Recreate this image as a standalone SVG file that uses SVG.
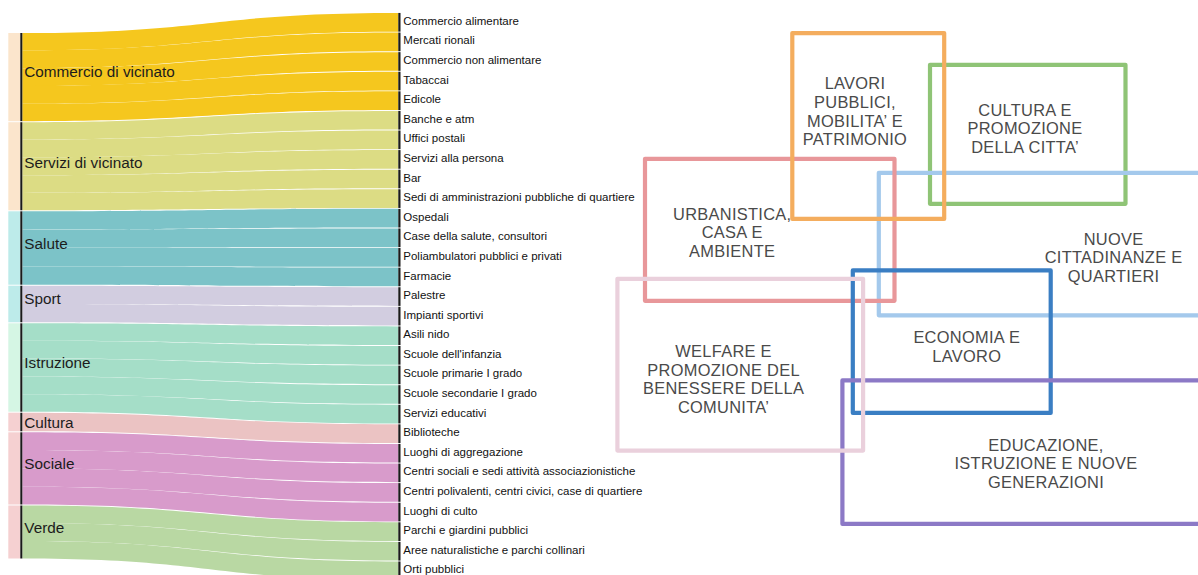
<svg xmlns="http://www.w3.org/2000/svg" width="1198" height="575" viewBox="0 0 1198 575">
<style>
.bg{fill:#ffffff}
.ll{font-family:"Liberation Sans",Arial,sans-serif;font-size:15.3px;fill:#1c1c1c}
.rl{font-family:"Liberation Sans",Arial,sans-serif;font-size:11.5px;fill:#111}
.bt{font-family:"Liberation Sans",Arial,sans-serif;font-size:16.4px;fill:#4a4a4a;letter-spacing:0.3px;text-anchor:middle}
.bar{fill:#1a1a1a}
.c1{fill:#f5c71e}.c2{fill:#dcdc84}.c3{fill:#7cc3c8}.c4{fill:#d2cde0}.c5{fill:#a5dec8}.c6{fill:#ebc3c3}.c7{fill:#d89bcb}.c8{fill:#b9d8a3}
.s1{fill:#fbe5cc}.s2{fill:#bdebea}.s3{fill:#d5f6e4}.s4{fill:#f5d0d1}
.box{fill:none;stroke-width:4.2;stroke-linejoin:round}
</style>
<rect class="bg" x="0" y="0" width="1198" height="575"/>
<g id="connectors">
<path class="c1" d="M22.3 33.0C210 33.0 210 12.95 398.3 12.95V31.64C210 31.64 210 50.34 22.3 50.34Z"/>
<path class="c1" d="M22.3 50.34C210 50.34 210 32.54 398.3 32.54V51.23C210 51.23 210 68.18 22.3 68.18Z"/>
<path class="c1" d="M22.3 68.18C210 68.18 210 52.13 398.3 52.13V70.82C210 70.82 210 86.02 22.3 86.02Z"/>
<path class="c1" d="M22.3 86.02C210 86.02 210 71.72 398.3 71.72V90.41C210 90.41 210 103.86 22.3 103.86Z"/>
<path class="c1" d="M22.3 103.86C210 103.86 210 91.31 398.3 91.31V110.0C210 110.0 210 121.2 22.3 121.2Z"/>
<path class="c2" d="M22.3 122.2C210 122.2 210 110.9 398.3 110.9V129.59C210 129.59 210 139.52 22.3 139.52Z"/>
<path class="c2" d="M22.3 139.52C210 139.52 210 130.49 398.3 130.49V149.18C210 149.18 210 157.34 22.3 157.34Z"/>
<path class="c2" d="M22.3 157.34C210 157.34 210 150.08 398.3 150.08V168.77C210 168.77 210 175.16 22.3 175.16Z"/>
<path class="c2" d="M22.3 175.16C210 175.16 210 169.67 398.3 169.67V188.36C210 188.36 210 192.98 22.3 192.98Z"/>
<path class="c2" d="M22.3 192.98C210 192.98 210 189.26 398.3 189.26V207.95C210 207.95 210 210.3 22.3 210.3Z"/>
<path class="c3" d="M22.3 211.3C210 211.3 210 208.85 398.3 208.85V227.54C210 227.54 210 229.4 22.3 229.4Z"/>
<path class="c3" d="M22.3 229.4C210 229.4 210 228.44 398.3 228.44V247.13C210 247.13 210 248.0 22.3 248.0Z"/>
<path class="c3" d="M22.3 248.0C210 248.0 210 248.03 398.3 248.03V266.72C210 266.72 210 266.6 22.3 266.6Z"/>
<path class="c3" d="M22.3 266.6C210 266.6 210 267.62 398.3 267.62V286.31C210 286.31 210 284.7 22.3 284.7Z"/>
<path class="c4" d="M22.3 285.7C210 285.7 210 287.21 398.3 287.21V305.9C210 305.9 210 304.0 22.3 304.0Z"/>
<path class="c4" d="M22.3 304.0C210 304.0 210 306.8 398.3 306.8V325.49C210 325.49 210 322.3 22.3 322.3Z"/>
<path class="c5" d="M22.3 323.3C210 323.3 210 326.39 398.3 326.39V345.08C210 345.08 210 340.68 22.3 340.68Z"/>
<path class="c5" d="M22.3 340.68C210 340.68 210 345.98 398.3 345.98V364.67C210 364.67 210 358.56 22.3 358.56Z"/>
<path class="c5" d="M22.3 358.56C210 358.56 210 365.57 398.3 365.57V384.26C210 384.26 210 376.44 22.3 376.44Z"/>
<path class="c5" d="M22.3 376.44C210 376.44 210 385.16 398.3 385.16V403.85C210 403.85 210 394.32 22.3 394.32Z"/>
<path class="c5" d="M22.3 394.32C210 394.32 210 404.75 398.3 404.75V423.44C210 423.44 210 411.7 22.3 411.7Z"/>
<path class="c6" d="M22.3 412.7C210 412.7 210 424.34 398.3 424.34V443.03C210 443.03 210 431.3 22.3 431.3Z"/>
<path class="c7" d="M22.3 432.3C210 432.3 210 443.93 398.3 443.93V462.62C210 462.62 210 450.1 22.3 450.1Z"/>
<path class="c7" d="M22.3 450.1C210 450.1 210 463.52 398.3 463.52V482.21C210 482.21 210 468.4 22.3 468.4Z"/>
<path class="c7" d="M22.3 468.4C210 468.4 210 483.11 398.3 483.11V501.8C210 501.8 210 486.7 22.3 486.7Z"/>
<path class="c7" d="M22.3 486.7C210 486.7 210 502.7 398.3 502.7V521.39C210 521.39 210 504.5 22.3 504.5Z"/>
<path class="c8" d="M22.3 505.5C210 505.5 210 522.29 398.3 522.29V540.98C210 540.98 210 523.0 22.3 523.0Z"/>
<path class="c8" d="M22.3 523.0C210 523.0 210 541.88 398.3 541.88V560.57C210 560.57 210 541.0 22.3 541.0Z"/>
<path class="c8" d="M22.3 541.0C210 541.0 210 561.47 398.3 561.47V580.16C210 580.16 210 558.5 22.3 558.5Z"/>
</g>
<g id="n-commercio"><rect class="s1" x="8.3" y="33.0" width="12" height="88.2"/><rect class="bar" x="20.3" y="33.0" width="2" height="88.2"/><text class="ll" x="24.3" y="77">Commercio di vicinato</text></g>
<g id="n-servizi"><rect class="s1" x="8.3" y="122.2" width="12" height="88.1"/><rect class="bar" x="20.3" y="122.2" width="2" height="88.1"/><text class="ll" x="24.3" y="167.5">Servizi di vicinato</text></g>
<g id="n-salute"><rect class="s2" x="8.3" y="211.3" width="12" height="73.4"/><rect class="bar" x="20.3" y="211.3" width="2" height="73.4"/><text class="ll" x="24.3" y="249">Salute</text></g>
<g id="n-sport"><rect class="s2" x="8.3" y="285.7" width="12" height="36.6"/><rect class="bar" x="20.3" y="285.7" width="2" height="36.6"/><text class="ll" x="24.3" y="304.3">Sport</text></g>
<g id="n-istruzione"><rect class="s3" x="8.3" y="323.3" width="12" height="88.4"/><rect class="bar" x="20.3" y="323.3" width="2" height="88.4"/><text class="ll" x="24.3" y="367.7">Istruzione</text></g>
<g id="n-cultura"><rect class="s4" x="8.3" y="412.7" width="12" height="18.6"/><rect class="bar" x="20.3" y="412.7" width="2" height="18.6"/><text class="ll" x="24.3" y="427.7">Cultura</text></g>
<g id="n-sociale"><rect class="s4" x="8.3" y="432.3" width="12" height="72.2"/><rect class="bar" x="20.3" y="432.3" width="2" height="72.2"/><text class="ll" x="24.3" y="469.3">Sociale</text></g>
<g id="n-verde"><rect class="s4" x="8.3" y="505.5" width="12" height="53"/><rect class="bar" x="20.3" y="505.5" width="2" height="53"/><text class="ll" x="24.3" y="532.7">Verde</text></g>
<g id="r0"><rect class="bar" x="398.3" y="12.95" width="2.2" height="18.69"/><text class="rl" x="403.3" y="24.8">Commercio alimentare</text></g>
<g id="r1"><rect class="bar" x="398.3" y="32.54" width="2.2" height="18.69"/><text class="rl" x="403.3" y="44.4">Mercati rionali</text></g>
<g id="r2"><rect class="bar" x="398.3" y="52.13" width="2.2" height="18.69"/><text class="rl" x="403.3" y="64.0">Commercio non alimentare</text></g>
<g id="r3"><rect class="bar" x="398.3" y="71.72" width="2.2" height="18.69"/><text class="rl" x="403.3" y="83.6">Tabaccai</text></g>
<g id="r4"><rect class="bar" x="398.3" y="91.31" width="2.2" height="18.69"/><text class="rl" x="403.3" y="103.2">Edicole</text></g>
<g id="r5"><rect class="bar" x="398.3" y="110.9" width="2.2" height="18.69"/><text class="rl" x="403.3" y="122.8">Banche e atm</text></g>
<g id="r6"><rect class="bar" x="398.3" y="130.49" width="2.2" height="18.69"/><text class="rl" x="403.3" y="142.3">Uffici postali</text></g>
<g id="r7"><rect class="bar" x="398.3" y="150.08" width="2.2" height="18.69"/><text class="rl" x="403.3" y="161.9">Servizi alla persona</text></g>
<g id="r8"><rect class="bar" x="398.3" y="169.67" width="2.2" height="18.69"/><text class="rl" x="403.3" y="181.5">Bar</text></g>
<g id="r9"><rect class="bar" x="398.3" y="189.26" width="2.2" height="18.69"/><text class="rl" x="403.3" y="201.1">Sedi di amministrazioni pubbliche di quartiere</text></g>
<g id="r10"><rect class="bar" x="398.3" y="208.85" width="2.2" height="18.69"/><text class="rl" x="403.3" y="220.7">Ospedali</text></g>
<g id="r11"><rect class="bar" x="398.3" y="228.44" width="2.2" height="18.69"/><text class="rl" x="403.3" y="240.3">Case della salute, consultori</text></g>
<g id="r12"><rect class="bar" x="398.3" y="248.03" width="2.2" height="18.69"/><text class="rl" x="403.3" y="259.9">Poliambulatori pubblici e privati</text></g>
<g id="r13"><rect class="bar" x="398.3" y="267.62" width="2.2" height="18.69"/><text class="rl" x="403.3" y="279.5">Farmacie</text></g>
<g id="r14"><rect class="bar" x="398.3" y="287.21" width="2.2" height="18.69"/><text class="rl" x="403.3" y="299.1">Palestre</text></g>
<g id="r15"><rect class="bar" x="398.3" y="306.8" width="2.2" height="18.69"/><text class="rl" x="403.3" y="318.7">Impianti sportivi</text></g>
<g id="r16"><rect class="bar" x="398.3" y="326.39" width="2.2" height="18.69"/><text class="rl" x="403.3" y="338.2">Asili nido</text></g>
<g id="r17"><rect class="bar" x="398.3" y="345.98" width="2.2" height="18.69"/><text class="rl" x="403.3" y="357.8">Scuole dell'infanzia</text></g>
<g id="r18"><rect class="bar" x="398.3" y="365.57" width="2.2" height="18.69"/><text class="rl" x="403.3" y="377.4">Scuole primarie I grado</text></g>
<g id="r19"><rect class="bar" x="398.3" y="385.16" width="2.2" height="18.69"/><text class="rl" x="403.3" y="397.0">Scuole secondarie I grado</text></g>
<g id="r20"><rect class="bar" x="398.3" y="404.75" width="2.2" height="18.69"/><text class="rl" x="403.3" y="416.6">Servizi educativi</text></g>
<g id="r21"><rect class="bar" x="398.3" y="424.34" width="2.2" height="18.69"/><text class="rl" x="403.3" y="436.2">Biblioteche</text></g>
<g id="r22"><rect class="bar" x="398.3" y="443.93" width="2.2" height="18.69"/><text class="rl" x="403.3" y="455.8">Luoghi di aggregazione</text></g>
<g id="r23"><rect class="bar" x="398.3" y="463.52" width="2.2" height="18.69"/><text class="rl" x="403.3" y="475.4">Centri sociali e sedi attività associazionistiche</text></g>
<g id="r24"><rect class="bar" x="398.3" y="483.11" width="2.2" height="18.69"/><text class="rl" x="403.3" y="495.0">Centri polivalenti, centri civici, case di quartiere</text></g>
<g id="r25"><rect class="bar" x="398.3" y="502.7" width="2.2" height="18.69"/><text class="rl" x="403.3" y="514.6">Luoghi di culto</text></g>
<g id="r26"><rect class="bar" x="398.3" y="522.29" width="2.2" height="18.69"/><text class="rl" x="403.3" y="534.1">Parchi e giardini pubblici</text></g>
<g id="r27"><rect class="bar" x="398.3" y="541.88" width="2.2" height="18.69"/><text class="rl" x="403.3" y="553.7">Aree naturalistiche e parchi collinari</text></g>
<g id="r28"><rect class="bar" x="398.3" y="561.47" width="2.2" height="18.69"/><text class="rl" x="403.3" y="573.3">Orti pubblici</text></g>
<g id="b-cultura"><rect class="box" x="930" y="64.8" width="195.5" height="139" stroke="#8fc476"/><text class="bt" x="1025" y="115.7">CULTURA E</text><text class="bt" x="1025" y="134.4">PROMOZIONE</text><text class="bt" x="1025" y="153.2">DELLA CITTA’</text></g>
<g id="b-nuove"><rect class="box" x="878.8" y="172.8" width="340" height="142.5" stroke="#a4c9ec"/><text class="bt" x="1113.6" y="245">NUOVE</text><text class="bt" x="1113.6" y="263.4">CITTADINANZE E</text><text class="bt" x="1113.6" y="281.7">QUARTIERI</text></g>
<g id="b-urbanistica"><rect class="box" x="645" y="158.8" width="249.5" height="142" stroke="#e8979a"/><text class="bt" x="732.2" y="220">URBANISTICA,</text><text class="bt" x="732.2" y="238.4">CASA E</text><text class="bt" x="732.2" y="256.8">AMBIENTE</text></g>
<g id="b-economia"><rect class="box" x="852.8" y="270.4" width="197.9" height="142.5" stroke="#3a7ec3"/><text class="bt" x="966.8" y="342.7">ECONOMIA E</text><text class="bt" x="966.8" y="361.7">LAVORO</text></g>
<g id="b-educazione"><rect class="box" x="842.4" y="380.4" width="370" height="143.5" stroke="#8c79c6"/><text class="bt" x="1046" y="450.7">EDUCAZIONE,</text><text class="bt" x="1046" y="469.2">ISTRUZIONE E NUOVE</text><text class="bt" x="1046" y="487.7">GENERAZIONI</text></g>
<g id="b-welfare"><rect class="box" x="617.4" y="278.8" width="245.7" height="171.8" stroke="#ead0dc"/><text class="bt" x="723.6" y="357.3">WELFARE E</text><text class="bt" x="723.6" y="375.8">PROMOZIONE DEL</text><text class="bt" x="723.6" y="394.3">BENESSERE DELLA</text><text class="bt" x="723.6" y="413">COMUNITA’</text></g>
<g id="b-lavori"><rect class="box" x="792.3" y="33.1" width="151.9" height="185.8" stroke="#f4ad5e"/><text class="bt" x="855" y="89">LAVORI</text><text class="bt" x="855" y="107.7">PUBBLICI,</text><text class="bt" x="855" y="126.5">MOBILITA’ E</text><text class="bt" x="855" y="145">PATRIMONIO</text></g>
</svg>
